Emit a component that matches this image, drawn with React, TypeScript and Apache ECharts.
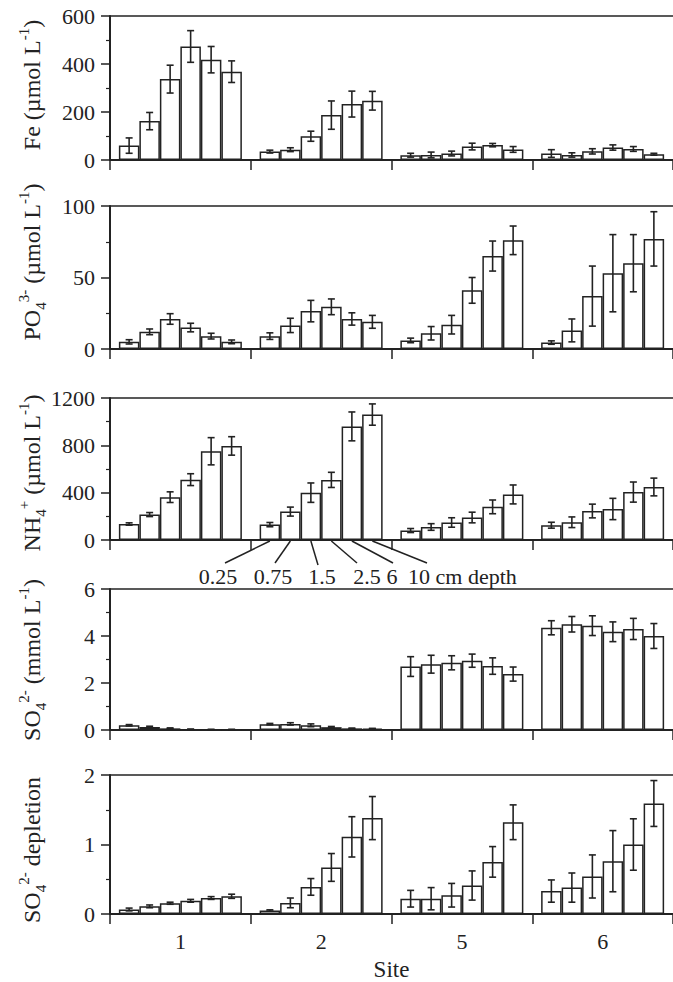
import React, { useEffect, useRef } from "react";
import * as echarts from "echarts";

const sites = ["1", "2", "5", "6"];
const depths = ["0.25", "0.75", "1.5", "2.5", "6", "10"];

// [site][depth]
const feMean = [[60, 162, 337, 473, 418, 368], [35, 43, 99, 187, 233, 247], [20, 21, 27, 56, 62, 44], [27, 21, 36, 52, 46, 24]];
const feErr = [[32, 36, 58, 66, 55, 45], [6, 8, 21, 59, 54, 39], [8, 12, 10, 14, 7, 12], [16, 9, 11, 11, 10, 4]];

const po4Mean = [[5, 12, 21, 15, 9, 5], [9, 16.5, 26.5, 29.5, 21, 19], [6, 11, 17, 41, 65, 76], [4.5, 13, 37, 53, 60, 77]];
const po4Err = [[1.5, 2, 3.7, 3, 2, 1.3], [2.3, 5, 7.5, 5.5, 4.3, 4.5], [1.6, 4.7, 6.5, 9, 10.5, 10], [1.2, 8, 21, 27, 20, 19]];

const nh4Mean = [[135, 215, 362, 510, 750, 795], [130, 240, 400, 508, 960, 1060], [80, 110, 148, 190, 280, 385], [125, 150, 245, 262, 405, 448]];
const nh4Err = [[10, 17, 45, 50, 115, 78], [18, 38, 82, 64, 122, 90], [17, 28, 40, 45, 58, 80], [25, 45, 58, 90, 85, 75]];

const so4Mean = [[0.2, 0.13, 0.07, 0.03, 0.02, 0.02], [0.25, 0.26, 0.2, 0.12, 0.07, 0.06], [2.7, 2.8, 2.86, 2.95, 2.72, 2.38], [4.35, 4.5, 4.44, 4.18, 4.3, 4.0]];
const so4Err = [[0.03, 0.03, 0.02, 0.01, 0.01, 0.01], [0.03, 0.05, 0.06, 0.03, 0.01, 0.01], [0.42, 0.38, 0.3, 0.28, 0.35, 0.3], [0.3, 0.33, 0.42, 0.42, 0.45, 0.53]];

const deplMean = [[0.065, 0.11, 0.155, 0.19, 0.23, 0.255], [0.05, 0.16, 0.39, 0.67, 1.11, 1.38], [0.22, 0.22, 0.27, 0.41, 0.75, 1.32], [0.33, 0.38, 0.54, 0.76, 1.0, 1.59]];
const deplErr = [[0.02, 0.02, 0.015, 0.02, 0.02, 0.03], [0.01, 0.07, 0.12, 0.2, 0.29, 0.31], [0.12, 0.16, 0.17, 0.21, 0.22, 0.25], [0.16, 0.21, 0.31, 0.44, 0.37, 0.33]];

const yMax = [600, 100, 1200, 6, 2];
const yInterval = [200, 50, 400, 2, 1];
const yTitles = [
  "{n|Fe (µmol L}{sup|-1}{n|)}",
  "{n|PO}{sub|4}{sup|3-}{n| (µmol L}{sup|-1}{n|)}",
  "{n|NH}{sub|4}{sup|+}{n| (µmol L}{sup|-1}{n|)}",
  "{n|SO}{sub|4}{sup|2-}{n| (mmol L}{sup|-1}{n|)}",
  "{n|SO}{sub|4}{sup|2-}{n| depletion}",
];
const xTitle = "Site";
const depthLabels = ["0.25", "0.75", "1.5", "2.5", "6", "10 cm depth"];

const means = [feMean, po4Mean, nh4Mean, so4Mean, deplMean];
const errs = [feErr, po4Err, nh4Err, so4Err, deplErr];

// layout
const FONT = "Liberation Serif";
const INK = "#222";
const W = 673;
const H = 982;
const GRID_LEFT = 110;
const GRID_W = 571;
const panelTops = [16, 206, 398, 589, 775];
const panelHeights = [144, 143, 142, 141, 143];
const titleCenters = [85, 262, 473, 660, 850];
const BAR_W = 20.5;
const CAP = 3.5;

const richTitle = {
  n: { fontSize: 24, fontFamily: FONT, lineHeight: 32, color: INK, fill: INK },
  sup: { fontSize: 15, fontFamily: FONT, lineHeight: 15, verticalAlign: "top", color: INK, fill: INK },
  sub: { fontSize: 15, fontFamily: FONT, lineHeight: 15, verticalAlign: "bottom", color: INK, fill: INK },
};

export default function App() {
  const ref = useRef<HTMLDivElement>(null);
  useEffect(() => {
    if (!ref.current) return;
    const chart = echarts.init(ref.current, null, { renderer: "svg" });
    const grids: any[] = [];
    const xAxes: any[] = [];
    const yAxes: any[] = [];
    const series: any[] = [];
    for (let p = 0; p < 5; p++) {
      grids.push({
        left: GRID_LEFT,
        width: GRID_W,
        top: panelTops[p],
        height: panelHeights[p],
        show: false,
      });
      const last = p === 4;
      xAxes.push({
        type: "category",
        gridIndex: p,
        data: sites,
        axisLine: { lineStyle: { color: INK, width: 2 } },
        axisTick: { show: true, length: 10, lineStyle: { color: INK, width: 1.5 } },
        axisLabel: { show: last, color: INK, fontFamily: FONT, fontSize: 22, margin: 16 },
        name: last ? xTitle : "",
        nameLocation: "middle",
        nameGap: 44,
        nameTextStyle: { color: INK, fontFamily: FONT, fontSize: 23 },
        splitLine: { show: false },
      });
      yAxes.push({
        type: "value",
        gridIndex: p,
        min: 0,
        max: yMax[p],
        interval: yInterval[p],
        axisLine: { show: true, lineStyle: { color: INK, width: 2 } },
        axisTick: { show: true, length: 9, lineStyle: { color: INK, width: 1.5 } },
        minorTick: { show: true, splitNumber: 2, length: 4, lineStyle: { color: INK, width: 1.2 } },
        axisLabel: { color: INK, fontFamily: FONT, fontSize: 22, margin: 15, formatter: (v: number) => String(v) },
        splitLine: { show: false },
        minorSplitLine: { show: false },
      });
      for (let d = 0; d < depths.length; d++) {
        series.push({
          type: "bar",
          name: depths[d],
          xAxisIndex: p,
          yAxisIndex: p,
          barWidth: BAR_W,
          barGap: "0%",
          data: sites.map((_, s) => means[p][s][d]),
          itemStyle: { color: "#fff", borderColor: INK, borderWidth: 1.5 },
          z: 2,
        });
      }
      const errData: number[][] = [];
      sites.forEach((_, s) => depths.forEach((__, d) => errData.push([s, d, means[p][s][d], errs[p][s][d]])));
      series.push({
        type: "custom",
        xAxisIndex: p,
        yAxisIndex: p,
        z: 5,
        encode: { x: 0, y: 2 },
        data: errData,
        renderItem: (params: any, api: any) => {
          const cat = api.value(0);
          const d = api.value(1);
          const v = api.value(2);
          const e = api.value(3);
          const top = api.coord([cat, v + e]);
          const bot = api.coord([cat, Math.max(v - e, 0)]);
          const x = top[0] + (d - 2.5) * BAR_W;
          const st = { stroke: INK, lineWidth: 1.6 };
          return {
            type: "group",
            children: [
              { type: "line", shape: { x1: x, y1: top[1], x2: x, y2: bot[1] }, style: st },
              { type: "line", shape: { x1: x - CAP, y1: top[1], x2: x + CAP, y2: top[1] }, style: st },
              { type: "line", shape: { x1: x - CAP, y1: bot[1], x2: x + CAP, y2: bot[1] }, style: st },
            ],
          };
        },
      });
    }

    chart.setOption({
      animation: false,
      backgroundColor: "#fff",
      textStyle: { fontFamily: FONT },
      grid: grids,
      xAxis: xAxes,
      yAxis: yAxes,
      series,
    });

    // annotations
    const graphics: any[] = [];
    for (let p = 0; p < 5; p++) {
      graphics.push({
        type: "line",
        shape: { x1: GRID_LEFT, y1: panelTops[p], x2: W, y2: panelTops[p] },
        style: { stroke: INK, lineWidth: 1.5 },
      });
      graphics.push({
        type: "text",
        x: 32,
        y: titleCenters[p],
        rotation: Math.PI / 2,
        style: {
          text: yTitles[p],
          rich: richTitle,
          align: "center",
          verticalAlign: "middle",
          textAlign: "center",
          textVerticalAlign: "middle",
          fill: INK,
          fontFamily: FONT,
          fontSize: 24,
        },
      });
    }
    const base = chart.convertToPixel({ gridIndex: 2 }, [1, 0]) as number[];
    const lineEnds = [[225, 563], [275, 563], [318, 565], [357, 563], [393, 563], [427, 563]];
    const labelPos = [[218, 576, "center"], [273, 576, "center"], [322, 576, "center"], [367, 576, "center"], [392, 576, "center"], [408, 576, "left"]];
    for (let d = 0; d < depths.length; d++) {
      const bx = base[0] + (d - 2.5) * BAR_W;
      graphics.push({
        type: "line",
        shape: { x1: bx, y1: base[1] + 1, x2: lineEnds[d][0], y2: lineEnds[d][1] },
        style: { stroke: INK, lineWidth: 1.5 },
      });
      graphics.push({
        type: "text",
        x: labelPos[d][0],
        y: labelPos[d][1],
        style: {
          text: depthLabels[d],
          fill: INK,
          fontFamily: FONT,
          fontSize: 22,
          align: labelPos[d][2],
          textAlign: labelPos[d][2],
          verticalAlign: "middle",
          textVerticalAlign: "middle",
        },
      });
    }
    chart.setOption({ graphic: graphics });

    return () => chart.dispose();
  }, []);
  return (
    <div style={{ position: "fixed", left: 0, top: 0, width: W, height: H, overflow: "hidden", background: "#fff" }}>
      <div ref={ref} style={{ width: W, height: H }} />
    </div>
  );
}
